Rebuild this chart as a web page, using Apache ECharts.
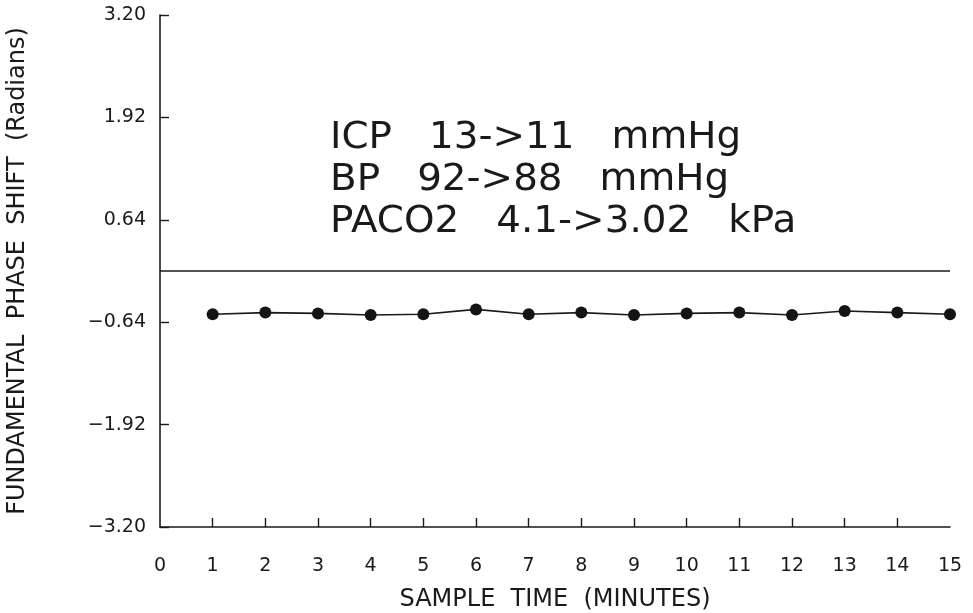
<!DOCTYPE html>
<html>
<head>
<meta charset="utf-8">
<script src="https://cdn.jsdelivr.net/npm/echarts@6/dist/echarts.min.js"></script>
<style>
  html, body { margin: 0; padding: 0; background: #ffffff; }
  #chart { width: 973px; height: 613px; }
</style>
</head>
<body>
<div id="chart"></div>
<script>
// Sample times (minutes) and the measured fundamental phase shift (radians)
const sampleTimes = [1, 2, 3, 4, 5, 6, 7, 8, 9, 10, 11, 12, 13, 14, 15];
const phaseShift = [-0.54, -0.52, -0.53, -0.55, -0.54, -0.48, -0.54, -0.52, -0.55, -0.53, -0.52, -0.55, -0.50, -0.52, -0.54];

// Tick marks along the time axis (the axis ends at 15 without a mark)
const xTicks = [1, 2, 3, 4, 5, 6, 7, 8, 9, 10, 11, 12, 13, 14];
// Y axis tick positions
const yTicks = [-3.20, -1.92, -0.64, 0.64, 1.92, 3.20];
// Reference line level
const baseline = 0;

// Annotation lines
const notes = [
  'ICP   13->11   mmHg',
  'BP   92->88   mmHg',
  'PACO2   4.1->3.02   kPa'
];

const ink = '#1a1a1a';
const font = '"DejaVu Sans", "Liberation Sans", sans-serif';

const chart = echarts.init(document.getElementById('chart'), null, { renderer: 'canvas' });

chart.setOption({
  backgroundColor: '#ffffff',
  animation: false,
  grid: { left: 160, right: 23, top: 15, bottom: 86, containLabel: false, outerBoundsMode: 'none' },
  xAxis: {
    type: 'value',
    min: 0,
    max: 15,
    interval: 1,
    name: 'SAMPLE  TIME  (MINUTES)',
    nameLocation: 'middle',
    nameGap: 61,
    nameTextStyle: { fontFamily: font, fontSize: 24, color: ink },
    axisLine: { show: true, onZero: false, lineStyle: { color: ink, width: 1.6 } },
    axisTick: { show: true, inside: true, length: 9, customValues: xTicks, lineStyle: { color: ink, width: 1.4 } },
    axisLabel: { fontFamily: font, fontSize: 19, color: ink, margin: 30 },
    splitLine: { show: false }
  },
  yAxis: {
    type: 'value',
    min: -3.2,
    max: 3.2,
    name: 'FUNDAMENTAL  PHASE  SHIFT  (Radians)',
    nameLocation: 'middle',
    nameGap: 130,
    nameRotate: 90,
    nameTextStyle: { fontFamily: font, fontSize: 24, color: ink },
    axisLine: { show: true, onZero: false, lineStyle: { color: ink, width: 1.6 } },
    axisTick: { show: true, inside: true, length: 9, customValues: yTicks, lineStyle: { color: ink, width: 1.4 } },
    axisLabel: {
      fontFamily: font, fontSize: 19, color: ink, margin: 14,
      customValues: yTicks,
      formatter: v => (v < 0 ? '\u2212' : '') + Math.abs(v).toFixed(2)
    },
    splitLine: { show: false }
  },
  series: [
    {
      type: 'line',
      data: sampleTimes.map((t, i) => [t, phaseShift[i]]),
      symbol: 'circle',
      symbolSize: 12,
      itemStyle: { color: '#141414' },
      lineStyle: { color: ink, width: 1.6 },
      markLine: {
        silent: true,
        symbol: 'none',
        label: { show: false },
        lineStyle: { color: ink, width: 1.6, type: 'solid' },
        data: [{ yAxis: baseline }]
      }
    }
  ],
  graphic: notes.map((txt, i) => ({
    type: 'text',
    x: 330,
    y: 120 + i * 42,
    scaleX: 1.05,
    style: { text: txt, fontFamily: font, fontSize: 37, fill: ink, verticalAlign: 'top' }
  }))
});
</script>
</body>
</html>
